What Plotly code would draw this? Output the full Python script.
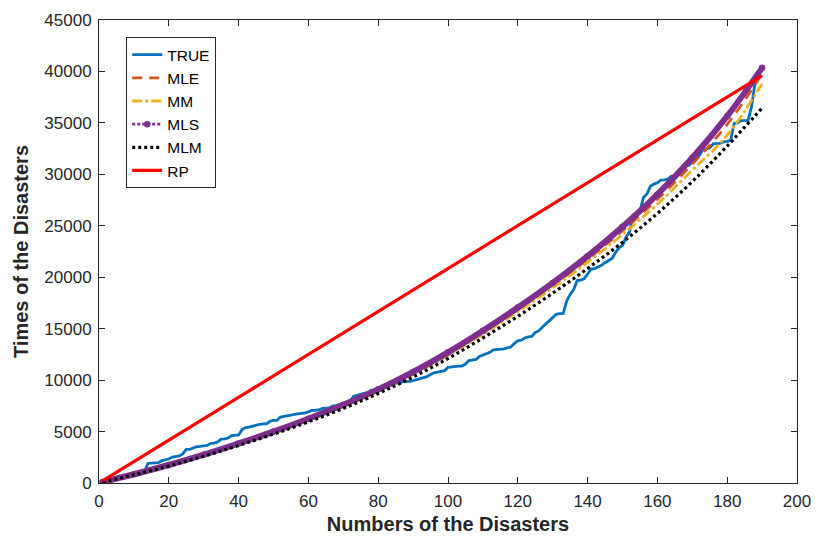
import plotly.graph_objects as go

# Observed cumulative times of the disasters (TRUE)
true_times = [157,280,282,406,418,422,432,648,728,740,773,839,1071,1897,1937,1949,1978,2168,2265,2330,
              2516,2539,2631,2828,3259,3275,3429,3524,3549,3568,3646,3848,3884,3994,4270,4286,4374,4599,4652,4669,
              5207,5394,5428,5529,5570,5709,5751,5752,6002,6082,6085,6409,6465,6496,6592,6662,6703,6796,6820,6911,
              7054,7070,7097,7241,7286,7292,7500,7529,7641,7684,7877,8011,8431,8526,8651,8685,8812,9030,9032,9032,
              9410,9446,9461,9492,9707,9718,9855,9859,9874,9946,10042,10166,10216,10336,10539,10715,10770,10863,10922,11237,
              11296,11357,11358,11371,11560,11905,11925,12006,12292,12406,12514,12702,12935,12963,12985,13046,13124,13223,13549,13824,
              13878,14095,14208,14240,14628,14779,15140,15452,15806,16113,16388,16466,16483,17688,18332,18799,19670,19718,19841,20297,
              20795,20844,20975,21157,21412,21606,21830,22396,22858,23086,23892,24409,26052,26106,26432,27744,28092,28837,29054,29174,
              29449,29469,29535,29827,29831,30199,30506,30842,30861,31190,31520,31832,32368,32513,32588,32952,32989,33008,33164,33211,
              33340,34970,34999,35216,35223,35241,36599,38965,39917,40549]
true_n = list(range(1, len(true_times) + 1))

# Fitted curves
fit_n = [1, 10, 20, 30, 40, 50, 60, 70, 80, 90, 100, 110, 120, 130, 140, 150, 160, 170, 180, 190]
mle = [90, 840, 1735, 2725, 3815, 4950, 6185, 7520, 9000, 10680, 12560, 14620, 16850, 19200, 21750, 24520, 27580, 31000, 34850, 39750]
mm = [90, 830, 1720, 2700, 3780, 4900, 6120, 7440, 8900, 10560, 12420, 14450, 16650, 18950, 21450, 24150, 27100, 30400, 33800, 38800]
mls = [90, 850, 1750, 2750, 3850, 5000, 6250, 7600, 9100, 10800, 12700, 14800, 17050, 19450, 22050, 24900, 28050, 31600, 35650, 40350]
mlm = [85, 800, 1650, 2600, 3650, 4750, 5950, 7250, 8700, 10300, 12100, 14100, 16200, 18450, 20850, 23400, 26200, 29300, 32750, 36450]
rp_n = [1, 190]
rp = [208, 39600]

x_ticks = [0, 20, 40, 60, 80, 100, 120, 140, 160, 180, 200]
y_ticks = [0, 5000, 10000, 15000, 20000, 25000, 30000, 35000, 40000, 45000]

FONT = "Liberation Sans, Arial, Helvetica, sans-serif"
AX = "#262626"

fig = go.Figure()
fig.add_trace(go.Scatter(x=true_n, y=true_times, mode="lines", name="TRUE",
                         line=dict(color="#0072BD", width=2.8)))
fig.add_trace(go.Scatter(x=fit_n, y=mle, mode="lines", name="MLE",
                         line=dict(color="#D95319", width=2.8, dash="10px,7px", shape="spline")))
fig.add_trace(go.Scatter(x=fit_n, y=mm, mode="lines", name="MM",
                         line=dict(color="#EDB120", width=2.8, dash="10px,3px,3px,3px", shape="spline")))
fig.add_trace(go.Scatter(x=fit_n, y=mls, mode="lines", showlegend=False, hoverinfo="skip",
                         line=dict(color="#7E2F8E", width=6, shape="spline")))
fig.add_trace(go.Scatter(x=fit_n, y=mls, mode="lines+markers", name="MLS",
                         line=dict(color="#7E2F8E", width=2.8, dash="3px,2px", shape="spline"),
                         marker=dict(color="#7E2F8E", size=6.5)))
fig.add_trace(go.Scatter(x=fit_n, y=mlm, mode="lines", name="MLM",
                         line=dict(color="black", width=3.2, dash="3px,3px", shape="spline")))
fig.add_trace(go.Scatter(x=rp_n, y=rp, mode="lines", name="RP",
                         line=dict(color="#FF0000", width=3.2)))

fig.update_layout(
    width=811, height=531,
    margin=dict(l=91, r=22, t=12, b=56, autoexpand=False),
    paper_bgcolor="white", plot_bgcolor="white",
    font=dict(family=FONT, size=17, color=AX),
    legend=dict(x=0.039, y=0.963, xanchor="left", yanchor="top",
                bgcolor="white", bordercolor=AX, borderwidth=1,
                font=dict(family=FONT, size=15.5, color="black"),
                tracegroupgap=0),
    showlegend=True,
)
fig.update_xaxes(range=[0, 200], tickvals=x_ticks, ticktext=[str(v) for v in x_ticks],
                 automargin=False,
                 showline=True, linecolor=AX, linewidth=1, mirror="ticks",
                 ticks="inside", ticklen=6, tickcolor=AX, showgrid=False, zeroline=False,
                 tickfont=dict(size=17, color=AX), ticklabelstandoff=3,
                 title=dict(text="<b>Numbers of the Disasters</b>", font=dict(size=20, color=AX), standoff=6))
fig.update_yaxes(range=[0, 45000], tickvals=y_ticks, ticktext=[str(v) for v in y_ticks],
                 automargin=False,
                 showline=True, linecolor=AX, linewidth=1, mirror="ticks",
                 ticks="inside", ticklen=6, tickcolor=AX, showgrid=False, zeroline=False,
                 tickfont=dict(size=17, color=AX), ticklabelstandoff=3,
                 title=dict(text="<b>Times of the Disasters</b>", font=dict(size=20, color=AX), standoff=10))

fig.write_html("out.html")
